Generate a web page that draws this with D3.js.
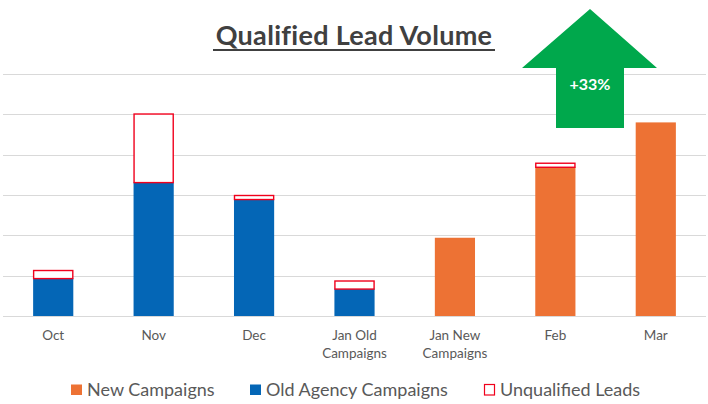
<!DOCTYPE html>
<html>
<head>
<meta charset="utf-8">
<script src="https://cdn.jsdelivr.net/npm/d3@7"></script>
<style>
  body { margin: 0; background: #fff; }
  svg { display: block; }
</style>
</head>
<body>
<script>
var categories = ["Oct", "Nov", "Dec", "Jan Old Campaigns", "Jan New Campaigns", "Feb", "Mar"];
var oldAgency = [47, 166, 145, 34, 0, 0, 0];
var newCampaigns = [0, 0, 0, 0, 97, 185, 240];
var unqualified = [10, 85, 5, 10, 0, 5, 0];
var yTicks = [0, 50, 100, 150, 200, 250, 300];
var legendItems = ["New Campaigns", "Old Agency Campaigns", "Unqualified Leads"];

var width = 708, height = 404;
var fontFam = "Lato, 'Open Sans', sans-serif";

var svg = d3.select("body").append("svg")
  .attr("width", width)
  .attr("height", height);

var xScale = d3.scaleBand()
  .domain(categories)
  .range([3, 706])
  .paddingInner(0.6)
  .paddingOuter(0.3);

var yScale = d3.scaleLinear()
  .domain([0, 300])
  .range([316, 74]);

// gridlines
svg.append("g")
  .selectAll("line")
  .data(yTicks)
  .enter()
  .append("line")
  .attr("x1", 3)
  .attr("x2", 706)
  .attr("y1", function(d) { return Math.round(yScale(d)) + 0.5; })
  .attr("y2", function(d) { return Math.round(yScale(d)) + 0.5; })
  .attr("stroke", "#d9d9d9")
  .attr("stroke-width", 1.2);

var rows = categories.map(function(c, i) {
  return { cat: c, old: oldAgency[i], nw: newCampaigns[i], unq: unqualified[i] };
});

// old agency bars
svg.append("g").selectAll("rect")
  .data(rows.filter(function(d) { return d.old > 0; }))
  .enter().append("rect")
  .attr("x", function(d) { return xScale(d.cat); })
  .attr("width", xScale.bandwidth())
  .attr("y", function(d) { return yScale(d.old); })
  .attr("height", function(d) { return yScale(0) - yScale(d.old); })
  .attr("fill", "#0466b6");

// new campaign bars
svg.append("g").selectAll("rect")
  .data(rows.filter(function(d) { return d.nw > 0; }))
  .enter().append("rect")
  .attr("x", function(d) { return xScale(d.cat); })
  .attr("width", xScale.bandwidth())
  .attr("y", function(d) { return yScale(d.nw); })
  .attr("height", function(d) { return yScale(0) - yScale(d.nw); })
  .attr("fill", "#ed7234");

// unqualified outline boxes stacked on top
svg.append("g").selectAll("rect")
  .data(rows.filter(function(d) { return d.unq > 0; }))
  .enter().append("rect")
  .attr("x", function(d) { return xScale(d.cat) + 0.5; })
  .attr("width", xScale.bandwidth() - 1)
  .attr("y", function(d) { return yScale(d.old + d.nw + d.unq) + 0.5; })
  .attr("height", function(d) { return yScale(d.old + d.nw) - yScale(d.old + d.nw + d.unq); })
  .attr("fill", "#fff")
  .attr("stroke", "#f0001c")
  .attr("stroke-width", 1.4);

// category labels (wrap two-word prefix)
var labels = svg.append("g").selectAll("text")
  .data(categories)
  .enter().append("text")
  .attr("x", function(d) { return xScale(d) + xScale.bandwidth() / 2; })
  .attr("y", 339.5)
  .attr("text-anchor", "middle")
  .attr("font-family", fontFam)
  .attr("font-size", "13.5px")
  .attr("fill", "#595959");

labels.each(function(d) {
  var t = d3.select(this);
  var parts = d.indexOf("Campaigns") > 0 ? [d.replace(" Campaigns", ""), "Campaigns"] : [d];
  parts.forEach(function(p, i) {
    t.append("tspan")
      .attr("x", xScale(d) + xScale.bandwidth() / 2)
      .attr("dy", i === 0 ? 0 : 18.5)
      .text(p);
  });
});

// title
svg.append("text")
  .attr("x", 354)
  .attr("y", 45)
  .attr("text-anchor", "middle")
  .attr("font-family", fontFam)
  .attr("font-weight", "bold")
  .attr("font-size", "27px")
  .attr("letter-spacing", "0.3px")
  .attr("fill", "#404040")
  .text("Qualified Lead Volume");

svg.append("line")
  .attr("x1", 213).attr("x2", 495)
  .attr("y1", 50).attr("y2", 50)
  .attr("stroke", "#404040")
  .attr("stroke-width", 1.8);

// growth arrow
var arrowPts = [[590, 9], [657, 68], [624, 68], [624, 128], [556, 128], [556, 68], [522, 68]];
svg.append("path")
  .attr("d", d3.line()(arrowPts) + "Z")
  .attr("fill", "#00a84c");

svg.append("text")
  .attr("x", 590)
  .attr("y", 90)
  .attr("text-anchor", "middle")
  .attr("font-family", fontFam)
  .attr("font-weight", "bold")
  .attr("font-size", "16px")
  .attr("fill", "#fff")
  .text("+33%");

// legend
var legendX = [71, 250, 484];
var legendFill = ["#ed7234", "#0466b6", "#fff"];
var legendStroke = ["none", "none", "#f0001c"];
var lg = svg.append("g").selectAll("g")
  .data(legendItems)
  .enter().append("g")
  .attr("transform", function(d, i) { return "translate(" + legendX[i] + ",384)"; });

lg.append("rect")
  .attr("x", function(d, i) { return i === 2 ? 0.5 : 0; })
  .attr("y", 0.5)
  .attr("width", function(d, i) { return i === 2 ? 10 : 11; })
  .attr("height", 10.5)
  .attr("fill", function(d, i) { return legendFill[i]; })
  .attr("stroke", function(d, i) { return legendStroke[i]; })
  .attr("stroke-width", 1.2);

lg.append("text")
  .attr("x", 16)
  .attr("y", 12)
  .attr("font-family", fontFam)
  .attr("font-size", "18px")
  .attr("fill", "#595959")
  .text(function(d) { return d; });
</script>
</body>
</html>
